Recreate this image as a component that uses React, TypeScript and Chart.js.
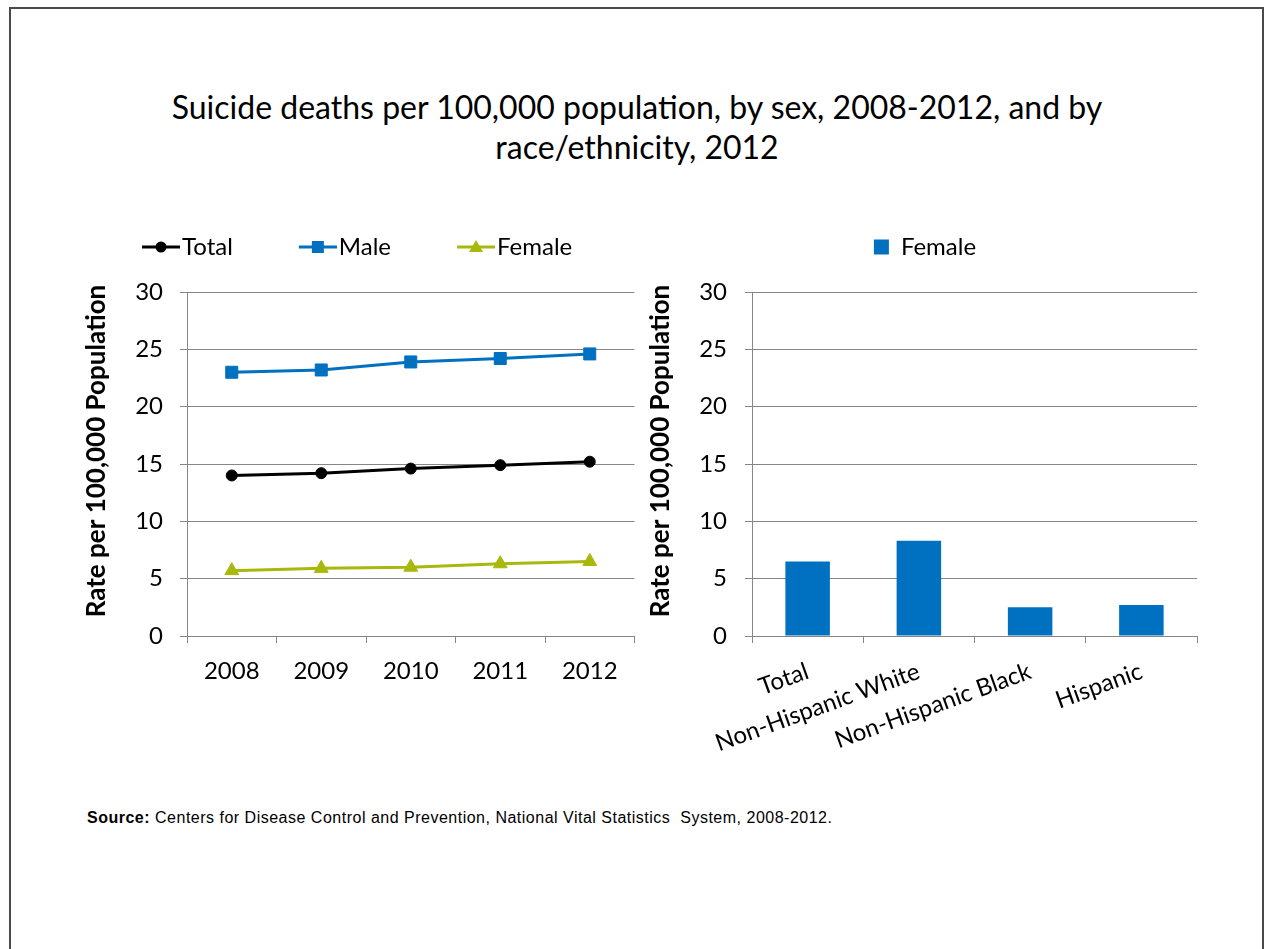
import React, { useEffect, useRef } from 'react';
import { Chart, registerables } from 'chart.js';

Chart.register(...registerables);

// ---- Data ----
const years = ['2008', '2009', '2010', '2011', '2012'];
const totalRates = [14.0, 14.2, 14.6, 14.9, 15.2];
const maleRates = [23.0, 23.2, 23.9, 24.2, 24.6];
const femaleRates = [5.7, 5.9, 6.0, 6.3, 6.5];

const raceGroups = ['Total', 'Non-Hispanic White', 'Non-Hispanic Black', 'Hispanic'];
const femaleRaceRates = [6.5, 8.3, 2.5, 2.7];

const yMin = 0;
const yMax = 30;
const yStep = 5;

const titleLines = [
  'Suicide deaths per 100,000 population, by sex, 2008-2012, and by',
  'race/ethnicity, 2012',
];
// leading en-spaces nudge the centred axis title upward, as in the original
const yAxisTitle = '\u2002\u2002Rate per 100,000 Population';
const sourceLabel = 'Source:';
const sourceText = ' Centers for Disease Control and Prevention, National Vital Statistics  System, 2008-2012.';

// ---- Styles ----
const FAMILY = 'Lato';
const GRID = '#868686';
const BLACK = '#000000';
const BLUE = '#0070C0';
const OLIVE = '#A8B80C';

const LEGEND_BOX = 84;

function makeLegendImage(color: string, marker: string): HTMLCanvasElement {
  const c = document.createElement('canvas');
  const w = LEGEND_BOX + 20;
  const h = 20;
  c.width = w;
  c.height = h;
  const ctx = c.getContext('2d')!;
  const x0 = w - 38;
  const cy = h / 2;
  ctx.strokeStyle = color;
  ctx.fillStyle = color;
  ctx.lineWidth = 3;
  ctx.beginPath();
  ctx.moveTo(x0, cy);
  ctx.lineTo(w, cy);
  ctx.stroke();
  const mx = x0 + 19;
  ctx.beginPath();
  if (marker === 'circle') {
    ctx.arc(mx, cy, 5.5, 0, Math.PI * 2);
  } else if (marker === 'rect') {
    ctx.rect(mx - 6, cy - 6, 12, 12);
  } else {
    ctx.moveTo(mx, cy - 7);
    ctx.lineTo(mx + 7, cy + 5);
    ctx.lineTo(mx - 7, cy + 5);
    ctx.closePath();
  }
  ctx.fill();
  return c;
}

export default function App() {
  const leftRef = useRef<HTMLCanvasElement | null>(null);
  const rightRef = useRef<HTMLCanvasElement | null>(null);

  useEffect(() => {
    const tickFont = { family: FAMILY, size: 24 };
    const axisTitleFont = { family: FAMILY, size: 26, weight: 'bold' as const };

    const lineSeries = [
      { label: 'Total', data: totalRates, color: BLACK, style: 'circle', radius: 5.5 },
      { label: 'Male', data: maleRates, color: BLUE, style: 'rect', radius: 8.5 },
      { label: 'Female', data: femaleRates, color: OLIVE, style: 'triangle', radius: 8 },
    ];
    const legendImgs = lineSeries.map((s) => makeLegendImage(s.color, s.style));

    const left = new Chart(leftRef.current!, {
      type: 'line',
      data: {
        labels: years,
        datasets: lineSeries.map((s) => ({
          label: s.label,
          data: s.data,
          borderColor: s.color,
          backgroundColor: s.color,
          pointBackgroundColor: s.color,
          pointBorderColor: s.color,
          pointBorderWidth: 1,
          pointStyle: s.style as any,
          pointRadius: s.radius,
          borderWidth: 3,
          tension: 0,
        })),
      },
      options: {
        responsive: false,
        animation: false,
        devicePixelRatio: 1,
        layout: { padding: { left: 76, right: 7, top: 25, bottom: 0 } },
        plugins: {
          legend: {
            align: 'start',
            labels: {
              usePointStyle: true,
              pointStyleWidth: LEGEND_BOX,
              padding: 10,
              color: BLACK,
              font: tickFont,
              generateLabels: (chart: any) =>
                chart.data.datasets.map((ds: any, i: number) => ({
                  text: ds.label,
                  pointStyle: legendImgs[i],
                  fillStyle: ds.borderColor,
                  strokeStyle: ds.borderColor,
                  lineWidth: 0,
                  hidden: false,
                  datasetIndex: i,
                })),
            },
          },
          title: {
            display: true,
            text: ' ',
            weight: 500,
            padding: { top: 0, bottom: 11 },
            font: { size: 10, lineHeight: 1.2 },
          } as any,
          tooltip: { enabled: false },
        },
        scales: {
          x: {
            offset: true,
            grid: { offset: true, drawOnChartArea: false, drawTicks: true, tickLength: 7, color: GRID },
            border: { color: GRID },
            ticks: { font: tickFont, color: BLACK, padding: 14 },
            afterFit: (s: any) => { s.height = 104; },
          },
          y: {
            min: yMin,
            max: yMax,
            ticks: { stepSize: yStep, font: tickFont, color: BLACK, padding: 17 },
            grid: { color: GRID, tickLength: 7 },
            border: { color: GRID },
            title: { display: true, text: yAxisTitle, font: axisTitleFont, color: BLACK, padding: { top: 5, bottom: 0 } },
            afterFit: (s: any) => { s.width = 111; },
          },
        },
      },
    });

    const right = new Chart(rightRef.current!, {
      type: 'bar',
      data: {
        labels: raceGroups,
        datasets: [
          {
            label: 'Female',
            data: femaleRaceRates,
            backgroundColor: BLUE,
            borderWidth: 0,
            barPercentage: 0.4,
            categoryPercentage: 1,
          },
        ],
      },
      options: {
        responsive: false,
        animation: false,
        devicePixelRatio: 1,
        layout: { padding: { left: 13, right: 13, top: 25, bottom: 0 } },
        plugins: {
          legend: {
            align: 'center',
            labels: { boxWidth: 15, boxHeight: 15, padding: 10, color: BLACK, font: tickFont },
          },
          title: {
            display: true,
            text: ' ',
            weight: 500,
            padding: { top: 0, bottom: 11 },
            font: { size: 10, lineHeight: 1.2 },
          } as any,
          tooltip: { enabled: false },
        },
        scales: {
          x: {
            grid: { offset: true, drawOnChartArea: false, drawTicks: true, tickLength: 7, color: GRID },
            border: { color: GRID },
            ticks: { font: tickFont, color: BLACK, padding: 14, minRotation: 20, maxRotation: 20, autoSkip: false },
            afterFit: (s: any) => { s.height = 124; },
          },
          y: {
            min: yMin,
            max: yMax,
            ticks: { stepSize: yStep, font: tickFont, color: BLACK, padding: 18 },
            grid: { color: GRID, tickLength: 7 },
            border: { color: GRID },
            title: { display: true, text: yAxisTitle, font: axisTitleFont, color: BLACK, padding: { top: -8, bottom: 0 } },
            afterFit: (s: any) => { s.width = 99; },
          },
        },
      },
    });

    return () => {
      left.destroy();
      right.destroy();
    };
  }, []);

  return (
    <div style={{ position: 'absolute', left: 0, top: 0, width: 1264, height: 949, background: '#fff', overflow: 'hidden' }}>
      <div
        style={{
          position: 'absolute',
          left: 9,
          top: 7,
          width: 1255,
          height: 960,
          border: '2px solid #4a4a4a',
          boxSizing: 'border-box',
        }}
      />
      <div
        style={{
          position: 'absolute',
          left: 10,
          top: 87,
          width: 1254,
          textAlign: 'center',
          fontFamily: FAMILY,
          fontSize: 32,
          lineHeight: '40px',
          color: '#000',
        }}
      >
        {titleLines.map((t, i) => (
          <div key={i}>{t}</div>
        ))}
      </div>
      <canvas ref={leftRef} width={644} height={540} style={{ position: 'absolute', left: 0, top: 200 }} />
      <canvas ref={rightRef} width={570} height={560} style={{ position: 'absolute', left: 640, top: 200 }} />
      <div
        style={{
          position: 'absolute',
          left: 87,
          top: 809,
          fontFamily: '"Liberation Sans", Arial, sans-serif',
          fontSize: 16,
          lineHeight: '18px',
          letterSpacing: '0.5px',
          color: '#000',
          whiteSpace: 'pre',
        }}
      >
        <b>{sourceLabel}</b>
        {sourceText}
      </div>
    </div>
  );
}
